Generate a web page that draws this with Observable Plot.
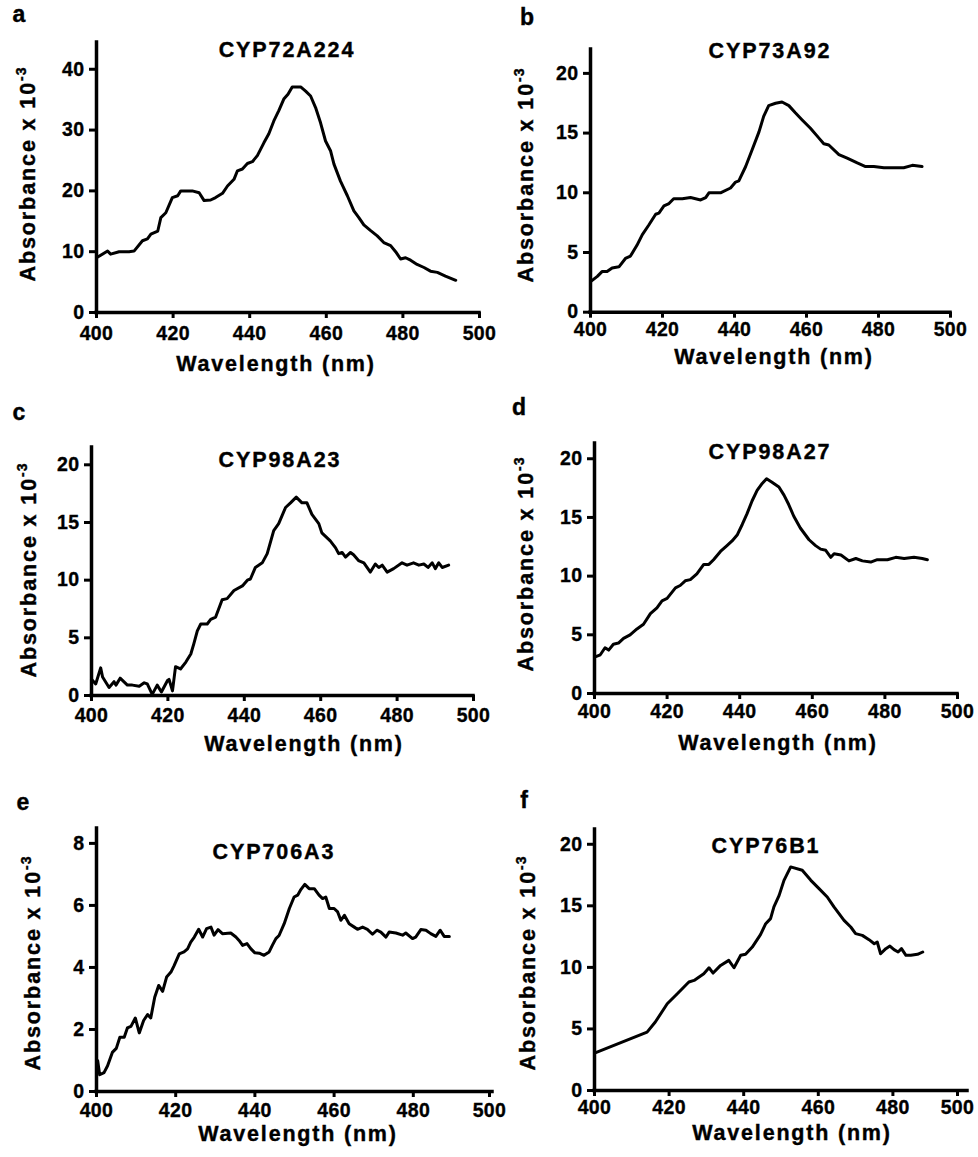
<!DOCTYPE html>
<html>
<head>
<meta charset="utf-8">
<script src="https://cdn.jsdelivr.net/npm/d3@7"></script>
<script src="https://cdn.jsdelivr.net/npm/@observablehq/plot@0.6"></script>
<style>
  html, body { margin: 0; padding: 0; background: #fff; }
  #fig { position: relative; width: 978px; height: 1157px; overflow: hidden; background: #fff; }
  #fig svg { position: absolute; }
</style>
</head>
<body>
<div id="fig"></div>
<script>
// ---------------- data (wavelength nm, absorbance x 10^-3) ----------------
const panelLetters = ["a", "b", "c", "d", "e", "f"];
const titles = ["CYP72A224", "CYP73A92", "CYP98A23", "CYP98A27", "CYP706A3", "CYP76B1"];
const xLabel = "Wavelength (nm)";
const yLabelMain = "Absorbance x 10";
const yLabelSup = "-3";
const xTicks = [400, 420, 440, 460, 480, 500];
const yTicksA = [0, 10, 20, 30, 40];
const yTicks20 = [0, 5, 10, 15, 20];
const yTicksE = [0, 2, 4, 6, 8];

const spectrumA = [[400,9.0],[402.9,10.1],[403.7,9.6],[405.9,10.0],[408.5,10.0],[409.8,10.1],[412,11.8],[413.3,12.1],[414.2,12.9],[416,13.4],[416.8,15.6],[418.1,16.4],[419.8,18.9],[421.2,19.2],[422,20.0],[425,20.0],[426.8,19.7],[428.1,18.4],[429.8,18.5],[431.1,18.9],[432.9,19.6],[434.2,20.8],[435.9,21.9],[436.8,23.3],[438.1,23.6],[439.4,24.5],[440.7,24.8],[442,25.8],[443.7,27.9],[445,29.4],[446.3,31.5],[447.6,33.2],[448.9,35.1],[450,35.9],[451.1,37.1],[453.3,37.1],[454.6,36.4],[455.9,35.6],[457.2,33.7],[458.5,31.2],[459.8,28.2],[461.1,26.6],[462,24.4],[463.7,21.6],[465.5,19.2],[467.2,16.7],[468.5,15.6],[469.8,14.4],[471.5,13.5],[473.3,12.6],[475,11.5],[476.8,11.0],[478.1,10.0],[479.4,8.8],[480.7,9.0],[482,8.6],[483.7,7.9],[485.5,7.4],[487.2,6.8],[489,6.6],[491.1,6.0],[493.8,5.3]];

const spectrumB = [[400.2,2.6],[401.9,3.0],[403.2,3.4],[404.6,3.4],[406,3.7],[407.9,3.8],[409.7,4.5],[411.1,4.7],[412.9,5.6],[414.4,6.5],[416.2,7.3],[418.1,8.2],[419,8.3],[420.4,8.9],[421.8,9.1],[423.1,9.5],[425.5,9.5],[427.8,9.6],[430.6,9.4],[432,9.6],[432.9,10.0],[436.1,10.0],[438.9,10.4],[440.3,10.9],[441.2,11.0],[443.1,12.2],[444.9,13.6],[446.8,15.1],[448.1,16.4],[449.5,17.3],[451.4,17.5],[453.2,17.6],[455.1,17.3],[456.9,16.7],[458.8,16.1],[461.1,15.4],[463.4,14.6],[464.8,14.1],[466.2,14.0],[469,13.2],[471.3,12.9],[474.1,12.5],[476.4,12.2],[478.7,12.2],[481.5,12.1],[484.3,12.1],[487,12.1],[489.4,12.3],[492.1,12.2]];

const spectrumC = [[400,1.4],[401.1,1.0],[402.4,2.4],[402.9,1.6],[404.6,0.7],[405.9,1.2],[406.4,0.9],[407.5,1.5],[409.4,0.9],[410.7,0.9],[412.5,0.8],[413.8,1.1],[414.6,1.0],[415.9,0.1],[417.2,0.9],[418.3,0.3],[419.9,1.3],[420.3,1.4],[421.2,0.4],[422,2.5],[423.3,2.3],[424.7,2.9],[426,3.6],[426.8,4.5],[427.7,5.6],[428.6,6.2],[430.3,6.2],[431.2,6.6],[432.5,6.8],[434.2,8.3],[435.5,8.4],[437.3,9.1],[439.5,9.5],[440.8,10.0],[441.6,10.1],[442.9,11.1],[444.7,11.5],[446,12.3],[447.7,14.3],[449,14.9],[450.8,16.3],[452.1,16.7],[453.6,17.2],[455.1,16.7],[456.4,16.7],[457.7,15.7],[459.5,14.9],[460.3,14.1],[462.5,13.4],[463.9,12.8],[464.7,12.3],[465.6,12.4],[466.5,12.0],[467.8,12.4],[468.6,12.2],[469.9,11.7],[471.3,11.5],[473,10.7],[474.3,11.4],[475.2,11.1],[476.1,11.3],[477.4,10.7],[479.1,11.0],[481.3,11.5],[482.6,11.3],[484.3,11.5],[485.7,11.3],[487,11.4],[488.1,11.1],[489.2,11.5],[490,11.0],[490.9,11.5],[491.8,11.1],[493.5,11.3]];

const spectrumD = [[400,3.1],[401.6,3.3],[402.9,3.9],[403.9,3.7],[405.2,4.2],[406.6,4.3],[408,4.7],[409.8,5.0],[411.7,5.5],[413.5,5.9],[415.4,6.8],[417.2,7.3],[418.6,7.9],[420,8.1],[422.3,9.0],[423.6,9.2],[425,9.6],[426.4,9.7],[428.2,10.2],[430.1,11.0],[431.5,11.0],[432.8,11.4],[434.7,12.1],[436.5,12.6],[437.9,13.0],[439.3,13.5],[440.7,14.4],[442,15.3],[443.4,16.4],[444.8,17.3],[446.2,17.9],[447.4,18.3],[448.9,18.0],[450.8,17.6],[452.2,16.9],[453.5,16.1],[454.9,15.1],[456.7,14.1],[459.1,13.1],[460.9,12.6],[462.3,12.3],[463.7,12.2],[465.1,11.6],[466,11.9],[467.9,11.8],[470.1,11.3],[472,11.5],[473.8,11.3],[476.1,11.2],[477.9,11.4],[480.7,11.4],[483,11.6],[485.3,11.5],[488,11.6],[490.3,11.5],[491.7,11.4]];

const spectrumE = [[400.3,0.99],[400.8,0.54],[401.9,0.61],[402.8,0.83],[404,1.26],[405,1.39],[405.9,1.75],[407,1.75],[407.8,2.05],[408.7,2.10],[409.8,2.37],[410.8,1.89],[411.9,2.29],[412.9,2.48],[413.7,2.37],[414.7,3.04],[415.7,3.42],[416.7,3.23],[417.7,3.69],[418.8,3.85],[419.6,4.06],[420.9,4.44],[422.1,4.50],[423,4.60],[423.8,4.82],[424.7,4.98],[425.8,5.23],[426.8,4.98],[427.8,5.25],[428.9,5.30],[429.7,5.04],[430.7,5.22],[431.8,5.09],[433.9,5.11],[435.2,4.98],[436,4.87],[436.9,4.71],[438,4.77],[439,4.60],[440,4.47],[441.1,4.46],[442.3,4.39],[443.6,4.50],[444.4,4.71],[445.3,4.93],[446.1,5.03],[447.4,5.41],[448.7,5.90],[449.9,6.27],[450.8,6.33],[451.6,6.51],[452.6,6.68],[453.7,6.54],[455,6.54],[456.2,6.33],[457.1,6.22],[457.9,6.27],[458.8,5.90],[460,5.90],[460.9,5.79],[461.7,5.52],[462.6,5.68],[463.8,5.41],[465.1,5.30],[465.9,5.23],[467.2,5.30],[468.4,5.23],[469.7,5.07],[470.8,5.20],[471.8,5.14],[473.1,4.98],[473.9,5.14],[475.6,5.11],[477.3,5.04],[478.1,5.11],[479.8,4.93],[480.6,4.98],[481.9,5.22],[483.2,5.20],[484.4,5.09],[485.7,5.00],[486.8,5.20],[487.8,5.00],[489.1,5.00]];

const spectrumF = [[400,3.04],[414.1,4.74],[416.3,5.56],[419.5,7.05],[422.2,7.86],[425.3,8.81],[426.7,8.94],[429.3,9.49],[430.7,9.97],[431.8,9.54],[433.8,10.16],[436,10.57],[437.4,9.97],[439.2,10.98],[440.5,11.06],[442.3,11.65],[444.5,12.66],[445.9,13.55],[447.2,13.96],[448.1,14.91],[449.5,15.85],[450.8,17.07],[452.6,18.16],[455.7,17.89],[458,17.07],[460.2,16.40],[462.4,15.72],[464.2,14.91],[466.9,13.82],[468.7,13.28],[470,12.74],[471.8,12.60],[473.6,12.25],[475,11.92],[475.8,12.06],[476.7,11.11],[478.1,11.52],[479.2,11.73],[480.3,11.44],[481.4,11.25],[482.3,11.52],[483.5,10.98],[484.8,10.98],[486.6,11.06],[488,11.25]];

// ---------------- layout (page pixels) ----------------
const series = [spectrumA, spectrumB, spectrumC, spectrumD, spectrumE, spectrumF];
const yTickSets = [yTicksA, yTicks20, yTicks20, yTicks20, yTicksE, yTicks20];
const yMaxes = [44.4, 22.0, 21.5, 21.3, 8.48, 21.2];
// axis geometry: x of y-axis (400 nm), x of 500 nm, y of 0, y of axis top,
// padding below x ticks, shift of last x label
const geom = [
  {x0: 96,  x1: 479, y0: 311.7, yTop: 41.7, xPad: 8,   lastDx: 0},
  {x0: 590, x1: 950, y0: 312,   yTop: 49.3, xPad: 4,   lastDx: 0},
  {x0: 91,  x1: 473, y0: 695,   yTop: 447,  xPad: 6.5, lastDx: 0},
  {x0: 594, x1: 957, y0: 693,   yTop: 443,  xPad: 5,   lastDx: 0},
  {x0: 96,  x1: 492, y0: 1091,  yTop: 828,  xPad: 5.5, lastDx: -3},
  {x0: 594, x1: 967, y0: 1090,  yTop: 829,  xPad: 4,   lastDx: -10}
];
// text anchor positions
const letterPos = [[19, 22], [527, 25], [19, 420], [519, 415], [23, 810], [524, 808]];
const titlePos = [[287, 49], [770, 50], [280, 459], [770, 451], [274, 851], [766, 845]];
const xLabelPos = [[276, 363], [774, 356], [304, 743], [778, 742], [298, 1133], [792, 1132]];
const yLabelPos = [[27, 174], [525, 175], [28, 570], [525, 564], [32, 963], [527, 963]];

const fig = document.getElementById("fig");
const FONT = "'Liberation Sans', Arial, Helvetica, sans-serif";
const TICK_FS = 19.5;

series.forEach((data, i) => {
  const g = geom[i];
  const mL = 72, mT = 6, mR = 25, mB = 44;
  const left = g.x0 - mL, top = g.yTop - mT;
  const width = (g.x1 + mR) - left;
  const height = (g.y0 + mB) - top;
  const tickText = {fontSize: TICK_FS, fontWeight: "bold", strokeWidth: 3};
  const svg = Plot.plot({
    width, height,
    marginLeft: mL, marginTop: mT, marginRight: mR, marginBottom: mB,
    style: {fontFamily: FONT, fontWeight: "bold", fontSize: TICK_FS + "px", color: "#000", background: "transparent", overflow: "visible"},
    x: {domain: [400, 500]},
    y: {domain: [0, yMaxes[i]]},
    marks: [
      Plot.axisX({ticks: xTicks.slice(0, -1), tickSize: 6, tickPadding: g.xPad, tickFormat: d => String(d), label: null, ...tickText}),
      Plot.axisX({ticks: xTicks.slice(-1), tickSize: 6, tickPadding: g.xPad, tickFormat: d => String(d), label: null, dx: g.lastDx, ...tickText}),
      Plot.axisY({ticks: yTickSets[i], tickSize: 7, tickPadding: 5, tickFormat: d => String(d), label: null, ...tickText}),
      Plot.ruleY([0], {stroke: "#000", strokeWidth: 3.5, strokeLinecap: "square"}),
      Plot.ruleX([400], {stroke: "#000", strokeWidth: 3.5, strokeLinecap: "square"}),
      Plot.line(data, {x: d => d[0], y: d => d[1], stroke: "#000", strokeWidth: 3, strokeLinejoin: "round", strokeLinecap: "round"})
    ]
  });
  // force the tick-label type (heavy, slightly spaced) as in the reference
  d3.select(svg).selectAll("text")
    .style("font-size", TICK_FS + "px").style("font-weight", "bold").style("font-family", FONT)
    .style("letter-spacing", "0.4px")
    .attr("stroke", "#000").attr("stroke-width", 0.35).attr("paint-order", "stroke");
  svg.style.left = left + "px";
  svg.style.top = top + "px";
  fig.appendChild(svg);
});

// ---------------- text overlay ----------------
const overlay = d3.select(fig).append("svg")
  .attr("width", 978).attr("height", 1157)
  .style("left", "0px").style("top", "0px")
  .style("pointer-events", "none")
  .attr("font-family", FONT).attr("font-weight", "bold").attr("fill", "#000")
  .attr("stroke", "#000").attr("stroke-width", 0.4);

panelLetters.forEach((L, i) => {
  overlay.append("text").attr("x", letterPos[i][0]).attr("y", letterPos[i][1])
    .attr("text-anchor", "middle").attr("font-size", 23).text(L);
  overlay.append("text").attr("x", titlePos[i][0]).attr("y", titlePos[i][1] + 7.5)
    .attr("text-anchor", "middle").attr("font-size", 21.5).attr("letter-spacing", "1.9px").text(titles[i]);
  overlay.append("text").attr("x", xLabelPos[i][0]).attr("y", xLabelPos[i][1] + 7.5)
    .attr("text-anchor", "middle").attr("font-size", 21.5).attr("letter-spacing", "1.8px").text(xLabel);
  const yl = overlay.append("text")
    .attr("transform", `translate(${yLabelPos[i][0] + 7.5},${yLabelPos[i][1]}) rotate(-90)`)
    .attr("text-anchor", "middle").attr("font-size", 21.5).attr("letter-spacing", "1.9px");
  yl.append("tspan").text(yLabelMain);
  yl.append("tspan").attr("dy", -9).attr("font-size", 14).attr("letter-spacing", "1px").text(yLabelSup);
});
</script>
</body>
</html>
